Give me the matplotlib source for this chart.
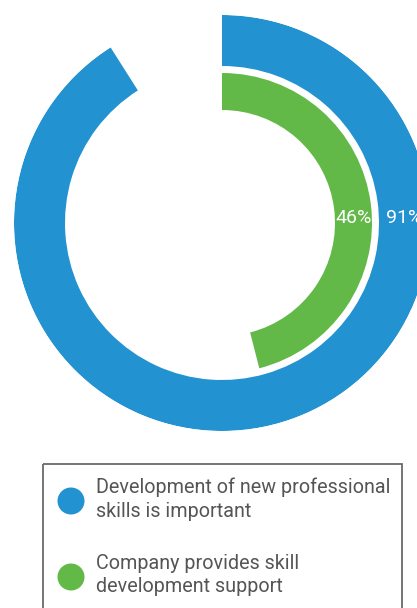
import numpy as np
import matplotlib
matplotlib.use("Agg")
import matplotlib.pyplot as plt
from matplotlib.patches import Rectangle, Circle

# Survey shares (percent)
series = ["Development of new professional\nskills is important",
          "Company provides skill\ndevelopment support"]
values = [91, 46]
colors = ["#2292D0", "#62B948"]

# ring radii in pixels (inner, outer) for each series
rings = [(157, 208), (113, 150)]

W, H = 417, 608
fig = plt.figure(figsize=(W / 100, H / 100), dpi=100)

# polar axes centred at (222, 223) px, outer radius 208 px
cx, cy, R = 222, 223, 208
ax = fig.add_axes([(cx - R) / W, (H - cy - R) / H, 2 * R / W, 2 * R / H], projection="polar")
ax.set_theta_zero_location("N")
ax.set_theta_direction(-1)
ax.set_rlim(0, R)
ax.axis("off")

for val, col, (r0, r1) in zip(values, colors, rings):
    ax.bar(0, r1 - r0, width=val / 100 * 2 * np.pi, bottom=r0, align="edge",
           color=col, linewidth=0)
    ax.text(np.pi / 2, (r0 + r1) / 2, f"{val}%", color="white", fontsize=14,
            family="Roboto", ha="center", va="baseline")

# legend drawn in pixel coordinates
lg = fig.add_axes([0, 0, 1, 1])
lg.set_xlim(0, W)
lg.set_ylim(H, 0)
lg.axis("off")
lg.add_patch(Rectangle((43, 464), 359, 160, fill=False, edgecolor="#6a6a6a", linewidth=1.3))
for i, (label, col) in enumerate(zip(series, colors)):
    y = 501 + i * 76
    lg.add_patch(Circle((71, y), 13.5, color=col, linewidth=0))
    lg.text(96, y - 2, label, color="#555555", fontsize=14.2, family="Roboto",
            ha="left", va="center", linespacing=1.3)

fig.savefig("out.png", dpi=100)
